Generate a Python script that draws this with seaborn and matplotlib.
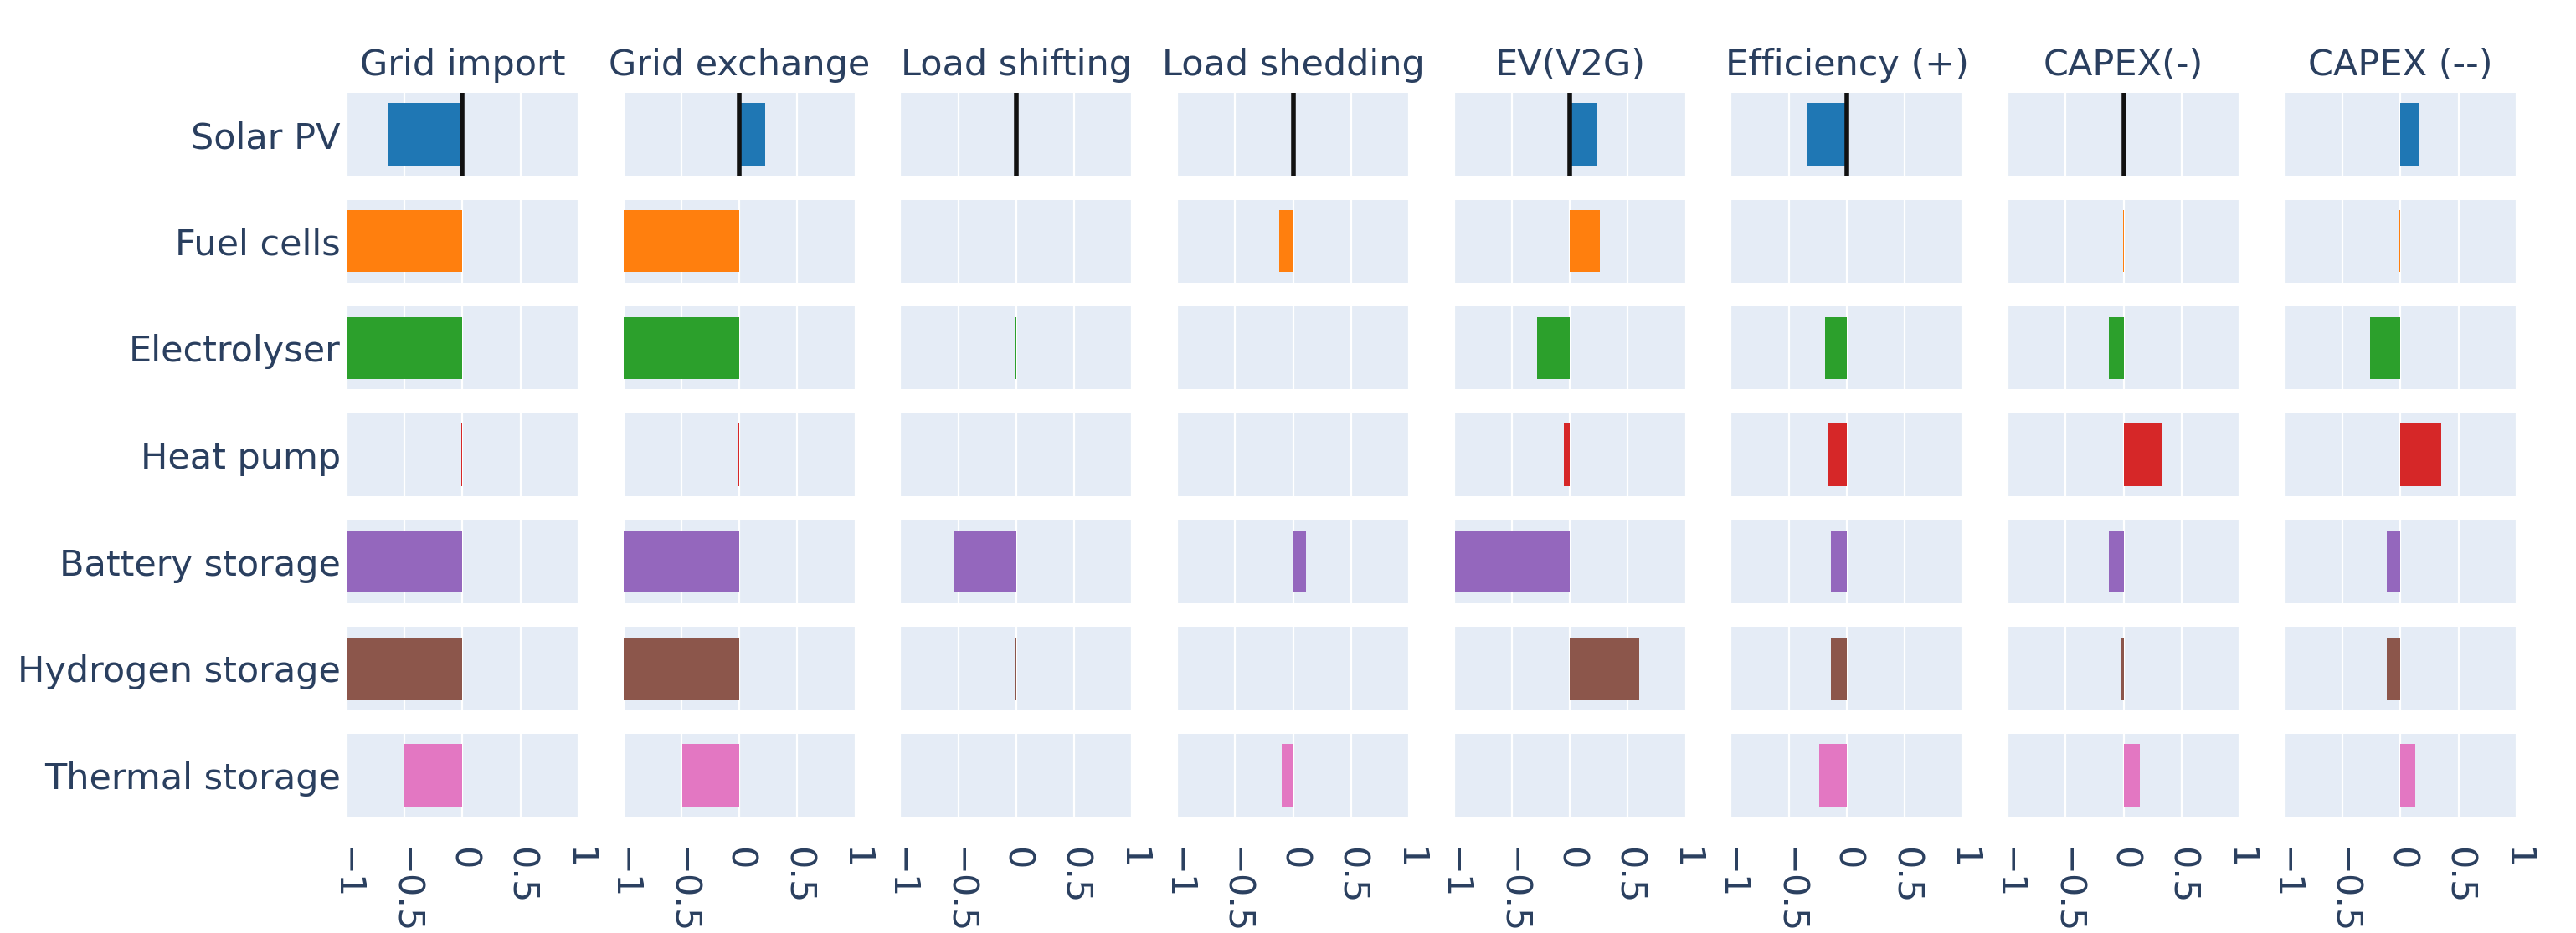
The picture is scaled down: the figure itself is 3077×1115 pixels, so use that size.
"""Sensitivity of technology capacities to each flexibility option (small multiples)."""

import matplotlib
matplotlib.use("Agg")
import matplotlib.pyplot as plt
import seaborn as sns

# Data
technologies = ["Solar PV", "Fuel cells", "Electrolyser", "Heat pump",
                "Battery storage", "Hydrogen storage", "Thermal storage"]
scenarios = ["Grid import", "Grid exchange", "Load shifting", "Load shedding",
             "EV(V2G)", "Efficiency (+)", "CAPEX(-)", "CAPEX (--)"]

grid_import = [-0.64, -1.0, -1.0, -0.008, -1.0, -1.0, -0.50]
grid_exchange = [0.22, -1.0, -1.0, -0.008, -1.0, -1.0, -0.49]
load_shifting = [0.0, 0.003, -0.01, 0.0, -0.53, -0.01, 0.003]
load_shedding = [0.0, -0.12, -0.004, 0.0, 0.11, 0.0, -0.10]
ev_v2g = [0.23, 0.26, -0.28, -0.05, -0.99, 0.60, -0.005]
efficiency = [-0.35, 0.0, -0.19, -0.16, -0.14, -0.14, -0.24]
capex_low = [0.0, -0.005, -0.13, 0.33, -0.13, -0.03, 0.14]
capex_high = [0.16, -0.015, -0.26, 0.35, -0.12, -0.12, 0.13]

tick_values = [-1, -0.5, 0, 0.5, 1]
tick_labels = ["\u22121", "\u22120.5", "0", "0.5", "1"]

# zero marker drawn on the Solar PV row for these scenarios
zero_line_scenarios = scenarios[:7]

# Style
COLORS = ["#1f77b4", "#ff7f0e", "#2ca02c", "#d62728",
          "#9467bd", "#8c564b", "#e377c2"]
PANEL_BG = "#E5ECF6"
TEXT = "#2a3f5f"
FONT_SIZE = 15.5

plt.rcParams["font.family"] = ["DejaVu Sans"]
plt.rcParams["axes.unicode_minus"] = True

values = {
    "Grid import": grid_import,
    "Grid exchange": grid_exchange,
    "Load shifting": load_shifting,
    "Load shedding": load_shedding,
    "EV(V2G)": ev_v2g,
    "Efficiency (+)": efficiency,
    "CAPEX(-)": capex_low,
    "CAPEX (--)": capex_high,
}

fig, axes = plt.subplots(len(technologies), len(scenarios),
                         figsize=(15.385, 5.575), dpi=200)
fig.subplots_adjust(left=0.1345, right=0.9769, top=0.9004, bottom=0.1247,
                    wspace=0.194, hspace=0.288)

for i, tech in enumerate(technologies):
    for j, scen in enumerate(scenarios):
        ax = axes[i, j]
        v = values[scen][i]
        sns.barplot(x=[v], y=[tech], orient="h", color=COLORS[i],
                    saturation=1, width=0.75, ax=ax, zorder=2)
        for p in ax.patches:
            p.set_linewidth(0)

        ax.set_xlim(-1, 1)
        ax.set_ylim(0.5, -0.5)
        ax.set_facecolor(PANEL_BG)
        for s in ax.spines.values():
            s.set_visible(False)
        ax.set_axisbelow(True)
        ax.set_xticks(tick_values)
        ax.grid(True, axis="x", color="white", linewidth=0.8)
        ax.grid(False, axis="y")
        ax.set_xlabel("")
        ax.set_ylabel("")
        ax.tick_params(length=0, colors=TEXT, labelsize=FONT_SIZE)

        if i == 0 and scen in zero_line_scenarios:
            ax.axvline(0, color="#111111", linewidth=2, zorder=3)

        if i == 0:
            ax.set_title(scen, fontsize=FONT_SIZE, color=TEXT, pad=7.6)

        if j == 0:
            ax.tick_params(axis="y", pad=2.5)
        else:
            ax.set_yticklabels([])

        if i == len(technologies) - 1:
            ax.set_xticklabels(tick_labels)
            ax.tick_params(axis="x", labelrotation=-90, pad=13)
        else:
            ax.tick_params(axis="x", labelbottom=False)

fig.savefig("out.png", dpi=200, facecolor="white")
plt.close(fig)
